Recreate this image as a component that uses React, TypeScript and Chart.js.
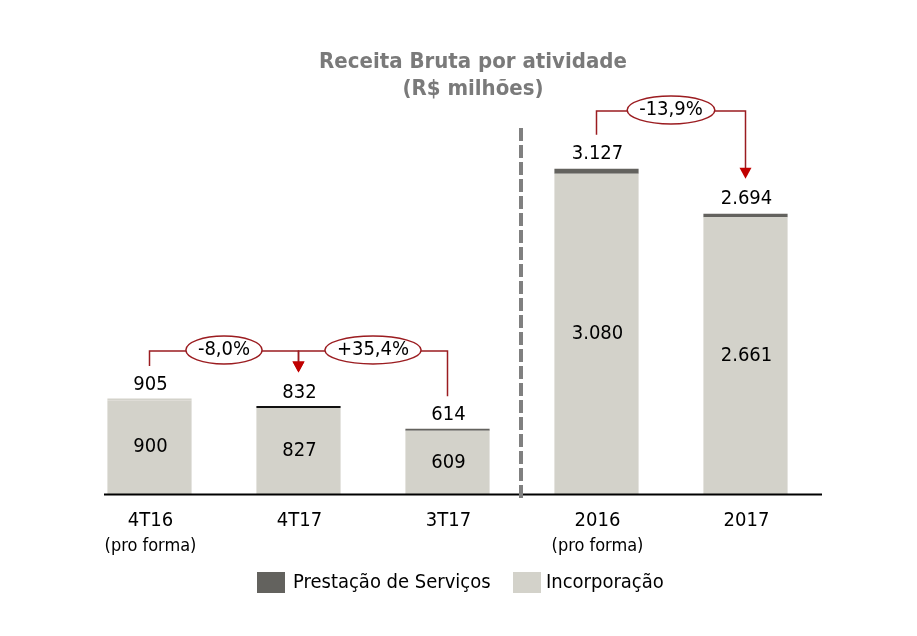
import React, { useEffect, useRef } from 'react';
import { Chart, registerables } from 'chart.js';

Chart.register(...registerables);

const categories: string[][] = [['4T16', '(pro forma)'], ['4T17'], ['3T17'], ['2016', '(pro forma)'], ['2017']];
const incorporacao = [900, 827, 609, 3080, 2661];
const prestacao = [5, 5, 5, 47, 33];
const totals = [905, 832, 614, 3127, 2694];
const changes = [
  { base: 0, target: 1, label: '-8,0%' },
  { base: 2, target: 1, label: '+35,4%' },
  { base: 3, target: 4, label: '-13,9%' },
];
const titleLines = ['Receita Bruta por atividade', '(R$ milhões)'];
const seriesNames = ['Prestação de Serviços', 'Incorporação'];

const FONT = '"DejaVu Sans Condensed", "DejaVu Sans", sans-serif';
const LIGHT = '#d3d2ca';
const DARK = '#63625e';
const RED_LINE = '#9b1c20';
const RED_FILL = '#c00000';

function fmt(n: number): string {
  const s = Math.round(n).toString();
  return s.replace(/\B(?=(\d{3})+(?!\d))/g, '.');
}

const overlay = {
  id: 'overlay',
  afterDraw(chart: any) {
    const ctx = chart.ctx as CanvasRenderingContext2D;
    const xs = chart.scales.x;
    const ys = chart.scales.y;
    const ca = chart.chartArea;
    const y0 = ys.getPixelForValue(0);
    ctx.save();

    // axis line
    ctx.strokeStyle = '#000';
    ctx.lineWidth = 2;
    ctx.beginPath();
    ctx.moveTo(ca.left + 29, y0 + 0.5);
    ctx.lineTo(ca.right + 2, y0 + 0.5);
    ctx.stroke();

    // dashed separator
    const sepX = (xs.getPixelForValue(2) + xs.getPixelForValue(3)) / 2 - 1;
    ctx.strokeStyle = '#808080';
    ctx.lineWidth = 4;
    ctx.setLineDash([13, 4]);
    ctx.beginPath();
    ctx.moveTo(sepX, 128);
    ctx.lineTo(sepX, y0 + 8);
    ctx.stroke();
    ctx.setLineDash([]);

    // title
    ctx.fillStyle = '#7a7a7a';
    ctx.font = `bold 22px ${FONT}`;
    ctx.textAlign = 'center';
    ctx.textBaseline = 'middle';
    ctx.fillText(titleLines[0], 473, 62);
    ctx.fillText(titleLines[1], 473, 89);

    // value labels
    ctx.fillStyle = '#000';
    ctx.font = `20px ${FONT}`;
    for (let i = 0; i < totals.length; i++) {
      const x = xs.getPixelForValue(i);
      const top = ys.getPixelForValue(totals[i]);
      ctx.fillText(fmt(totals[i]), x + 1, top - 15);
      const mid = (ys.getPixelForValue(incorporacao[i]) + y0) / 2;
      ctx.fillText(fmt(incorporacao[i]), x + 1, mid);
    }

    // category labels
    for (let i = 0; i < categories.length; i++) {
      const x = xs.getPixelForValue(i);
      ctx.font = `20px ${FONT}`;
      ctx.fillText(categories[i][0], x + 1, 521);
      if (categories[i][1]) {
        ctx.font = `18px ${FONT}`;
        ctx.fillText(categories[i][1], x + 1, 546);
      }
    }

    // change brackets
    const levels = [351, 351, 111];
    changes.forEach((c, k) => {
      const level = levels[k];
      const bx = xs.getPixelForValue(c.base);
      const tx = xs.getPixelForValue(c.target);
      const bTop = ys.getPixelForValue(totals[c.base]) - 34;
      const tTop = ys.getPixelForValue(totals[c.target]) - 35;
      ctx.strokeStyle = RED_LINE;
      ctx.lineWidth = 1.5;
      ctx.beginPath();
      ctx.moveTo(bx, bTop);
      ctx.lineTo(bx, level);
      ctx.lineTo(tx, level);
      ctx.lineTo(tx, tTop - 10);
      ctx.stroke();
      ctx.fillStyle = RED_FILL;
      ctx.beginPath();
      ctx.moveTo(tx - 6, tTop - 11);
      ctx.lineTo(tx + 6, tTop - 11);
      ctx.lineTo(tx, tTop);
      ctx.closePath();
      ctx.fill();
      const cx = (bx + tx) / 2;
      ctx.font = `20px ${FONT}`;
      const w = ctx.measureText(c.label).width;
      ctx.fillStyle = '#fff';
      ctx.beginPath();
      ctx.ellipse(cx, level - 1, w / 2 + 12, 14, 0, 0, Math.PI * 2);
      ctx.fill();
      ctx.stroke();
      ctx.fillStyle = '#000';
      ctx.fillText(c.label, cx, level - 1);
    });

    // legend
    ctx.textAlign = 'left';
    ctx.font = `20px ${FONT}`;
    ctx.fillStyle = DARK;
    ctx.fillRect(257, 572, 28, 21);
    ctx.fillStyle = '#000';
    ctx.fillText(seriesNames[0], 293, 583);
    ctx.fillStyle = LIGHT;
    ctx.fillRect(513, 572, 28, 21);
    ctx.fillStyle = '#000';
    ctx.fillText(seriesNames[1], 546, 583);

    ctx.restore();
  },
};

export default function App() {
  const ref = useRef<HTMLCanvasElement | null>(null);
  useEffect(() => {
    if (!ref.current) return;
    const chart = new Chart(ref.current, {
      type: 'bar',
      data: {
        labels: categories.map((c) => c.join(' ')),
        datasets: [
          {
            label: seriesNames[1],
            data: incorporacao,
            backgroundColor: LIGHT,
            categoryPercentage: 1,
            barPercentage: 0.565,
          },
          {
            label: seriesNames[0],
            data: prestacao,
            backgroundColor: [LIGHT, '#111', DARK, DARK, DARK],
            categoryPercentage: 1,
            barPercentage: 0.565,
            minBarLength: 2,
          },
        ],
      },
      options: {
        responsive: false,
        animation: false,
        devicePixelRatio: 1,
        layout: { padding: { left: 75, right: 97, top: 78, bottom: 142 } },
        scales: {
          x: { display: false, stacked: true },
          y: { display: false, stacked: true, min: 0, max: 4000 },
        },
        plugins: { legend: { display: false }, tooltip: { enabled: false }, title: { display: false } },
      },
      plugins: [overlay],
    });
    return () => chart.destroy();
  }, []);
  return (
    <div style={{ position: 'absolute', left: 0, top: 0, width: 917, height: 636, background: '#fff' }}>
      <canvas ref={ref} width={917} height={636} style={{ display: 'block' }} />
    </div>
  );
}
